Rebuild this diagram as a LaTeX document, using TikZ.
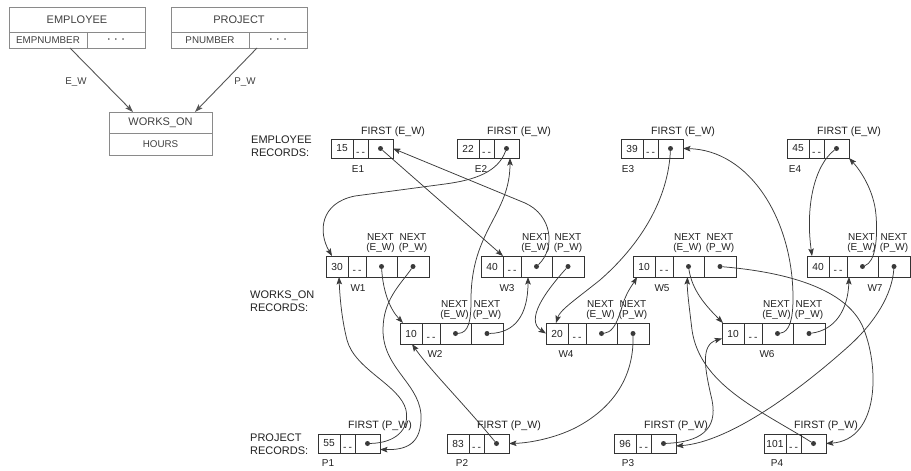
\documentclass[tikz,border=0pt]{standalone}
\usepackage{fontspec}
\setmainfont{Liberation Sans}
\usetikzlibrary{arrows.meta,calc}
\definecolor{tlgray}{HTML}{8A8A8A}
\definecolor{tltext}{HTML}{404040}
\definecolor{tlline}{HTML}{555555}
\definecolor{boxc}{HTML}{333333}
\definecolor{linec}{HTML}{3A3A3A}
\definecolor{txt}{HTML}{222222}
\newcommand{\rfont}{\fontsize{10.2}{11}\selectfont}
\newcommand{\lfont}{\fontsize{10}{10.5}\selectfont}
\newcommand{\ffont}{\fontsize{10.6}{11}\selectfont}
\newcommand{\gfont}{\fontsize{11}{13.5}\selectfont}
\newcommand{\mydash}{\vphantom{0}\smash{\raisebox{-3pt}{-\kern2pt-}}}
\newcommand{\tdots}{\textbullet\hspace{5pt}\textbullet\hspace{5pt}\textbullet}
\tikzset{
  cell/.style={draw=boxc, line width=0.8pt, inner sep=0pt, outer sep=0pt, anchor=north west, text=txt, font=\rfont},
  dot/.style={circle, fill=linec, inner sep=0pt, minimum size=5pt},
  conn/.style={draw=linec, line width=0.75pt, -{Stealth[length=7.5pt,width=5.5pt,inset=1.5pt]}},
  lbl/.style={text=txt, font=\lfont, inner sep=0pt, align=center},
  flbl/.style={text=txt, font=\ffont, inner sep=0pt},
  glbl/.style={text=txt, font=\gfont, inner sep=0pt, align=left, anchor=west},
  tlbox/.style={draw=tlgray, line width=0.8pt, inner sep=0pt, outer sep=0pt, anchor=north west, text=tltext},
  tlarr/.style={draw=tlline, line width=0.9pt, -{Stealth[length=8pt,width=5.5pt,inset=1.5pt]}},
}
% owner record: name, x, y, number
\newcommand{\ownerrec}[4]{%
  \node[cell, minimum width=22pt, minimum height=19pt] (#1a) at (#2,#3) {#4};
  \node[cell, minimum width=15pt, minimum height=19pt] (#1b) at (#1a.north east) {\mydash};
  \node[cell, minimum width=25pt, minimum height=19pt] (#1c) at (#1b.north east) {};
  \node[dot] (#1d) at (#1c.center) {};
}
% member record: name, x, y, number
\newcommand{\memberrec}[4]{%
  \node[cell, minimum width=22pt, minimum height=21pt] (#1a) at (#2,#3) {#4};
  \node[cell, minimum width=18pt, minimum height=21pt] (#1b) at (#1a.north east) {\mydash};
  \node[cell, minimum width=31pt, minimum height=21pt] (#1c) at (#1b.north east) {};
  \node[cell, minimum width=32pt, minimum height=21pt] (#1d) at (#1c.north east) {};
  \node[dot] (#1Ed) at (#1c.center) {};
  \node[dot] (#1Pd) at (#1d.center) {};
  \node[lbl, anchor=south] (#1nE) at ($(#1c.north)+(-1,-3)$) {NEXT\\(E\_W)};
  \node[lbl, anchor=south] (#1nP) at ($(#1d.north)+(0,-3)$) {NEXT\\(P\_W)};
}
\begin{document}
\begin{tikzpicture}[x=1pt,y=-1pt]
\useasboundingbox[fill=white] (0,0) rectangle (911,471);

% ---------- schema diagram (top left) ----------
\node[tlbox, minimum width=136pt, minimum height=25pt, font=\fontsize{11}{12}\selectfont] (emp) at (9,7) {EMPLOYEE};
\node[tlbox, minimum width=78pt, minimum height=16pt, font=\fontsize{9.8}{11}\selectfont] (empn) at (emp.south west) {EMPNUMBER};
\node[tlbox, minimum width=58pt, minimum height=16pt, font=\fontsize{6}{7}\selectfont] (empd) at (empn.north east) {\tdots};
\node[tlbox, minimum width=136pt, minimum height=25pt, font=\fontsize{11}{12}\selectfont] (proj) at (171,7) {PROJECT};
\node[tlbox, minimum width=78pt, minimum height=16pt, font=\fontsize{9.8}{11}\selectfont] (projn) at (proj.south west) {PNUMBER};
\node[tlbox, minimum width=58pt, minimum height=16pt, font=\fontsize{6}{7}\selectfont] (projd) at (projn.north east) {\tdots};
\node[tlbox, minimum width=103pt, minimum height=21pt, font=\fontsize{11}{12}\selectfont] (wo) at (109,112) {WORKS\_ON};
\node[tlbox, minimum width=103pt, minimum height=22pt, font=\fontsize{9.8}{11}\selectfont] (woh) at (wo.south west) {HOURS};
\draw[tlarr] ($(empn.south)+(22,0)$) -- ($(wo.north west)+(24,0)$);
\draw[tlarr] ($(projd.south west)+(8,0)$) -- ($(wo.north east)+(-17,0)$);
\node[text=tltext, font=\fontsize{9.8}{11}\selectfont] (ewl) at (76,82) {E\_W};
\node[text=tltext, font=\fontsize{9.8}{11}\selectfont] (pwl) at (245,82) {P\_W};

% ---------- group labels ----------
\node[glbl] (gE) at (251,146) {EMPLOYEE\\RECORDS:};
\node[glbl] (gW) at (250,301) {WORKS\_ON\\RECORDS:};
\node[glbl] (gP) at (250,444) {PROJECT\\RECORDS:};

% ---------- owner records ----------
\ownerrec{E1}{331}{139}{15}
\ownerrec{E2}{457}{139}{22}
\ownerrec{E3}{621}{139}{39}
\ownerrec{E4}{787}{139}{45}
\foreach \n in {E1,E2,E3,E4}{\node[flbl] (\n f) at ($(\n c.north east)+(0,-7)$) {FIRST (E\_W)};}
\node[lbl] (E1l) at (358,169) {E1};
\node[lbl] (E2l) at (481,169) {E2};
\node[lbl] (E3l) at (628,169) {E3};
\node[lbl] (E4l) at (795,169) {E4};

\ownerrec{P1}{318}{434}{55}
\ownerrec{P2}{447}{434}{83}
\ownerrec{P3}{614}{434}{96}
\ownerrec{P4}{764}{434}{101}
\foreach \n in {P1,P2,P3,P4}{\node[flbl] (\n f) at ($(\n c.north east)+(0,-8)$) {FIRST (P\_W)};}
\node[lbl] (P1l) at (328,463) {P1};
\node[lbl] (P2l) at (462,463) {P2};
\node[lbl] (P3l) at (628,463) {P3};
\node[lbl] (P4l) at (777,463) {P4};

% ---------- member records ----------
\memberrec{W1}{326}{256}{30}
\memberrec{W3}{481}{256}{40}
\memberrec{W5}{633}{256}{10}
\memberrec{W7}{807}{256}{40}
\memberrec{W2}{400}{323}{10}
\memberrec{W4}{546}{323}{20}
\memberrec{W6}{722}{323}{10}
\node[lbl] (W1l) at (358,288) {W1};
\node[lbl] (W3l) at (507,288) {W3};
\node[lbl] (W5l) at (662,288) {W5};
\node[lbl] (W7l) at (875,288) {W7};
\node[lbl] (W2l) at (435,354) {W2};
\node[lbl] (W4l) at (566,354) {W4};
\node[lbl] (W6l) at (767,354) {W6};

% ---------- E_W set occurrences ----------
\draw[conn] (E1d) -- (W3a.north east);
\draw[conn] (W3Ed) .. controls (556,248) and (552,215) .. (525,203) -- (E1c.east);
\draw[conn] (E2d) .. controls (498,172) and (475,180) .. (445,184) -- (355,196) .. controls (320,203) and (318,232) .. ($(W1a.north)+(-5,0)$);
\draw[conn] (W1Ed) .. controls (383,290) and (389,308) .. ($(W2a.north west)+(3,0)$);
\draw[conn] (W2Ed) .. controls (469,333) and (471,320) .. (471,300) .. controls (471,230) and (510,215) .. ($(E2c.south)+(3.5,0)$);
\draw[conn] (E3d) .. controls (668,200) and (640,245) .. (600,280) .. controls (575,300) and (560,310) .. ($(W4a.north)+(-1,0)$);
\draw[conn] (W4Ed) .. controls (618,332) and (621,305) .. (626,296) .. controls (629,289) and (633,284) .. ($(W5a.south west)+(4,0)$);
\draw[conn] (W5Ed) .. controls (692,290) and (705,305) .. ($(W6a.north west)+(1,0)$);
\draw[conn] (W6Ed) .. controls (790,332) and (793,318) .. (793,298) .. controls (793,220) and (750,150) .. (E3c.east);
\draw[conn] (E4d) .. controls (815,165) and (805,205) .. ($(W7a.north west)+(5,0)$);
\draw[conn] (W7Ed) .. controls (875,262) and (878,240) .. (876,215) .. controls (874,190) and (860,170) .. (E4c.south east);

% ---------- P_W set occurrences ----------
\draw[conn] (P1d) .. controls (395,443) and (410,430) .. (406,410) .. controls (400,385) and (355,370) .. (347,340) .. controls (342,320) and (340,300) .. ($(W1a.south)+(2,0)$);
\draw[conn] (W1Pd) .. controls (400,285) and (383,300) .. (383,330) .. controls (383,370) and (423,385) .. (421,420) .. controls (420,445) and (405,450) .. ($(P1c.east)+(0,6)$);
\draw[conn] (P2d) .. controls (465,405) and (430,370) .. ($(W2a.south)+(1,0)$);
\draw[conn] (W2Pd) .. controls (515,333) and (528,315) .. ($(W3c.south west)+(7,0)$);
\draw[conn] (W3Pd) .. controls (545,292) and (525,320) .. (W4a.west);
\draw[conn] (W4Pd) .. controls (634,380) and (610,410) .. (575,428) .. controls (555,438) and (530,443) .. (P2c.east);
\draw[conn] (P3d) .. controls (700,442) and (718,430) .. (712,400) .. controls (705,370) and (700,345) .. ($(W6a.west)+(0,5)$);
\draw[conn] (W6Pd) .. controls (835,330) and (848,310) .. ($(W7c.south west)+(2,0)$);
\draw[conn] (W7Pd) .. controls (892,295) and (875,322) .. (850,345) .. controls (800,390) and (730,442) .. ($(P3c.east)+(0,2.5)$);
\draw[conn] (P4d) .. controls (760,410) and (700,385) .. (692,330) .. controls (689,305) and (687,290) .. ($(W5c.south)+(-1,0)$);
\draw[conn] (W5Pd) .. controls (760,270) and (840,280) .. (862,325) .. controls (880,365) and (880,440) .. (P4c.east);
\end{tikzpicture}
\end{document}
